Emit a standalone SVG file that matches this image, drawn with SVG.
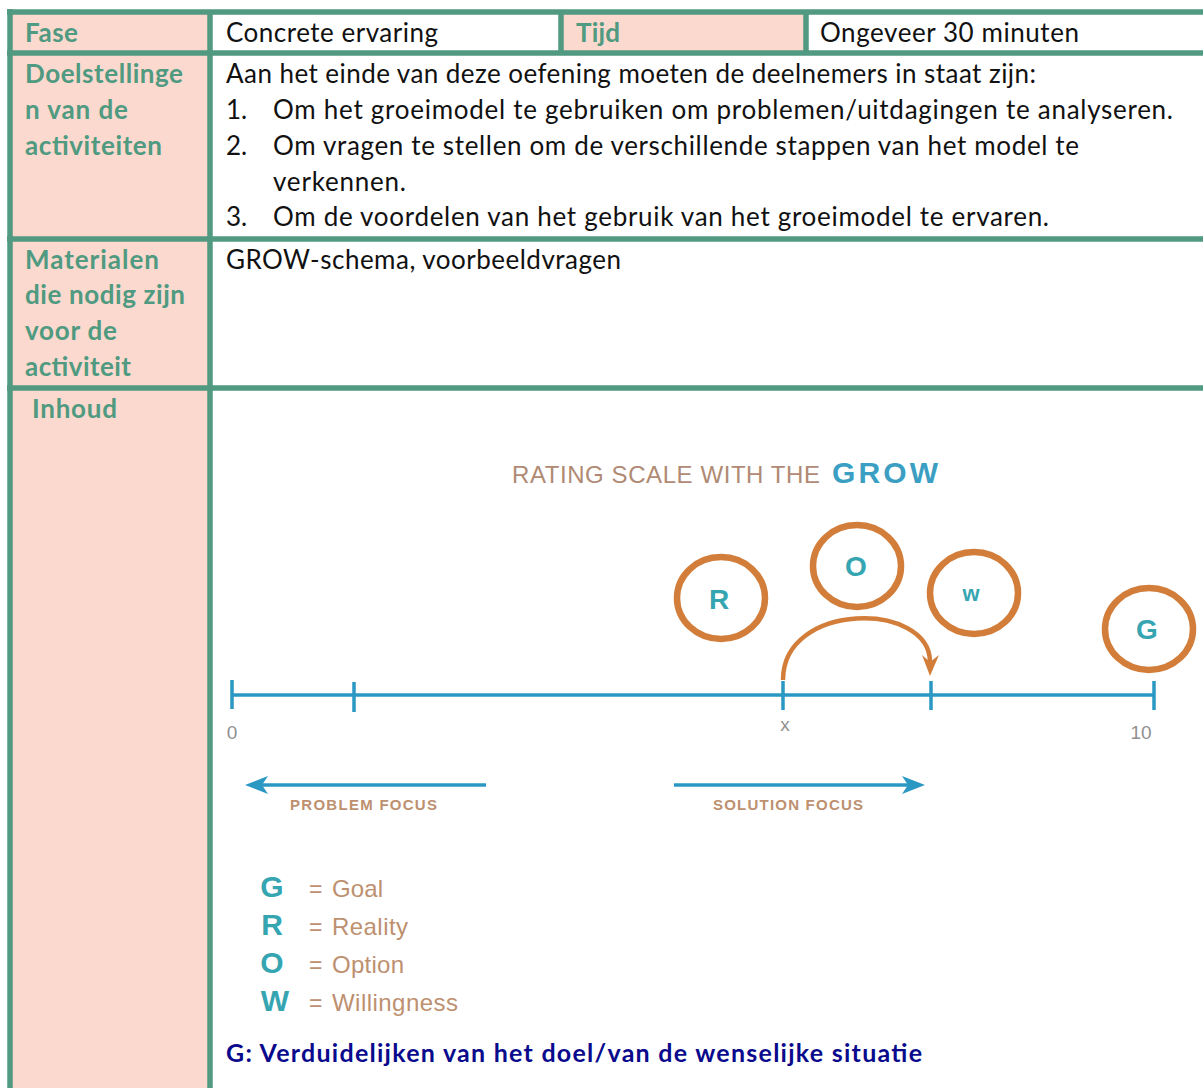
<svg xmlns="http://www.w3.org/2000/svg" width="1203" height="1088" viewBox="0 0 1203 1088">
<style>
.hd{font-family:Lato,"Liberation Sans",sans-serif;font-weight:bold;font-size:26px;fill:#4F9A80}
.tx{font-family:Lato,"Liberation Sans",sans-serif;font-size:26px;fill:#111}
.bd{stroke:#529981;stroke-width:5.5;fill:none}
.pk{fill:#FBD9CE}
.ring{fill:none;stroke:#D27E3A;stroke-width:6.5}
.lt{font-family:"Liberation Sans",Arial,sans-serif;font-weight:bold;fill:#36A5B2;text-anchor:middle}
.tan{font-family:"Liberation Sans",Arial,sans-serif;fill:#BD9070}
.gr{font-family:"Liberation Sans",Arial,sans-serif;fill:#909090;font-size:19px}
.bl{stroke:#2B98C4;stroke-width:3.5;fill:none}
.bh{fill:#2B98C4}
</style>
<rect width="1203" height="1088" fill="#fff"/>
<g id="table">
<rect class="pk" x="10" y="12" width="200" height="1076"/>
<rect class="pk" x="561" y="12" width="245" height="41"/>
<path class="bd" d="M10,9 V1088 M210,12 V1088 M7,12 H1203 M7,53 H1203 M7,239 H1203 M7,388 H1203 M561,12 V53 M806,12 V53"/>
</g>
<g id="row-fase">
<text class="hd" x="25" y="42" textLength="53">Fase</text>
<text class="tx" x="226" y="42" textLength="212">Concrete ervaring</text>
<text class="hd" x="576" y="42" textLength="44">Tijd</text>
<text class="tx" x="820" y="42" textLength="259">Ongeveer 30 minuten</text>
</g>
<g id="row-doel">
<text class="hd" x="25" y="83" textLength="158">Doelstellinge</text>
<text class="hd" x="25" y="119" textLength="103">n van de</text>
<text class="hd" x="25" y="155" textLength="137">activiteiten</text>
<text class="tx" x="226" y="83" textLength="810">Aan het einde van deze oefening moeten de deelnemers in staat zijn:</text>
<text class="tx" x="226" y="119">1.</text>
<text class="tx" x="273" y="119" textLength="900">Om het groeimodel te gebruiken om problemen/uitdagingen te analyseren.</text>
<text class="tx" x="226" y="155">2.</text>
<text class="tx" x="273" y="155" textLength="806">Om vragen te stellen om de verschillende stappen van het model te</text>
<text class="tx" x="273" y="191" textLength="133">verkennen.</text>
<text class="tx" x="226" y="226">3.</text>
<text class="tx" x="273" y="226" textLength="776">Om de voordelen van het gebruik van het groeimodel te ervaren.</text>
</g>
<g id="row-mat">
<text class="hd" x="25" y="269" textLength="134">Materialen</text>
<text class="hd" x="25" y="304" textLength="160">die nodig zijn</text>
<text class="hd" x="25" y="340" textLength="92">voor de</text>
<text class="hd" x="25" y="376" textLength="106">activiteit</text>
<text class="tx" x="226" y="269" textLength="395">GROW-schema, voorbeeldvragen</text>
</g>
<g id="row-inhoud">
<text class="hd" x="32" y="418" textLength="85">Inhoud</text>
</g>
<g id="grow-title">
<text class="tan" x="512" y="483" font-size="24" textLength="308" style="fill:#B08A74">RATING SCALE WITH THE</text>
<text class="lt" x="885" y="483" font-size="30" style="fill:#3A9FC2" textLength="106">GROW</text>
</g>
<g id="scale">
<path class="bl" d="M232,695 H1154"/>
<path class="bl" d="M232,680 V709 M354,682 V712 M783,681 V710 M931,681 V710 M1154,681 V710"/>
<text class="gr" x="232" y="739" text-anchor="middle">0</text>
<text class="gr" x="785" y="731" text-anchor="middle">x</text>
<text class="gr" x="1141" y="739" text-anchor="middle">10</text>
</g>
<g id="node-R"><ellipse class="ring" cx="721" cy="598" rx="44" ry="41"/><text class="lt" x="719" y="609" font-size="28">R</text></g>
<g id="node-O"><ellipse class="ring" cx="857" cy="566" rx="44" ry="41"/><text class="lt" x="856" y="576" font-size="28">O</text></g>
<g id="node-W"><ellipse class="ring" cx="974" cy="593" rx="44" ry="41"/><text class="lt" x="971" y="601" font-size="22">w</text></g>
<g id="node-G"><ellipse class="ring" cx="1149" cy="629" rx="44" ry="41"/><text class="lt" x="1147" y="639" font-size="28">G</text></g>
<g id="connectors">
<path d="M783,680 C783,601 930,601 930,662" fill="none" stroke="#D27E3A" stroke-width="4.5"/>
<path d="M922,655 L930,676 L939,655 L930,662 Z" fill="#D27E3A"/>
<path class="bl" d="M486,785 H255"/>
<path class="bh" d="M245,785 L268,776 L262,785 L268,794 Z"/>
<path class="bl" d="M674,785 H915"/>
<path class="bh" d="M925,785 L902,776 L908,785 L902,794 Z"/>
</g>
<g id="focus-labels">
<text class="tan" x="290" y="810" font-size="15" font-weight="bold" textLength="147">PROBLEM FOCUS</text>
<text class="tan" x="713" y="810" font-size="15" font-weight="bold" textLength="150">SOLUTION FOCUS</text>
</g>
<g id="legend">
<text class="lt" x="272" y="897" font-size="30">G</text>
<text class="lt" x="272" y="935" font-size="30">R</text>
<text class="lt" x="272" y="973" font-size="30">O</text>
<text class="lt" x="275" y="1011" font-size="30">W</text>
<text class="tan" x="309" y="897" font-size="23">=</text>
<text class="tan" x="309" y="935" font-size="23">=</text>
<text class="tan" x="309" y="973" font-size="23">=</text>
<text class="tan" x="309" y="1011" font-size="23">=</text>
<text class="tan" x="332" y="897" font-size="24" textLength="51">Goal</text>
<text class="tan" x="332" y="935" font-size="24" textLength="76">Reality</text>
<text class="tan" x="332" y="973" font-size="24" textLength="72">Option</text>
<text class="tan" x="332" y="1011" font-size="24" textLength="126">Willingness</text>
</g>
<g id="g-heading">
<text x="226" y="1062" font-family="Lato,'Liberation Sans',sans-serif" font-weight="bold" font-size="25" fill="#0A0A8C" textLength="696">G: Verduidelijken van het doel/van de wenselijke situatie</text>
</g>
</svg>
